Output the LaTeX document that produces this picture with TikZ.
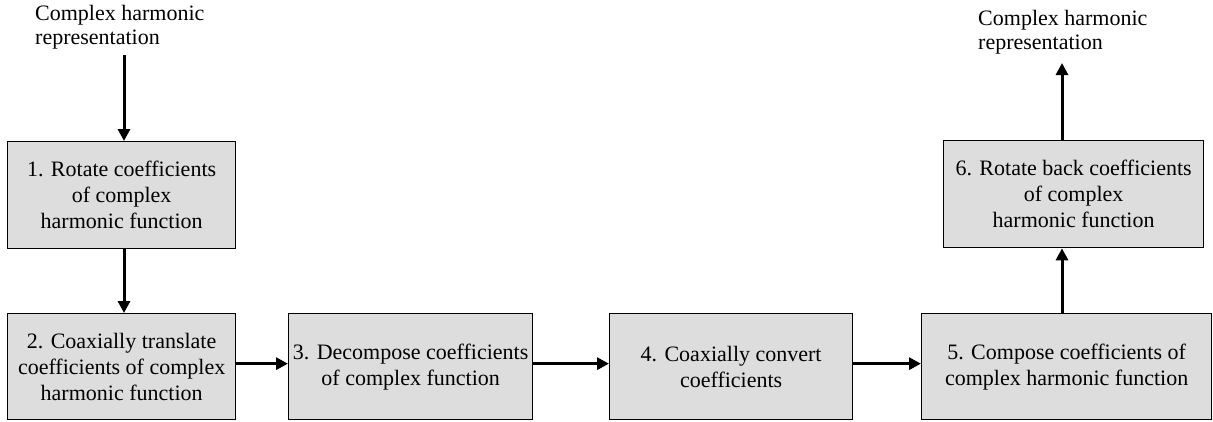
\documentclass[tikz,border=0pt]{standalone}
\usepackage{fontspec}
\setmainfont{Liberation Serif}
\usetikzlibrary{arrows.meta, positioning}

\begin{document}
\begin{tikzpicture}[x=1pt,y=-1pt,>={Triangle[length=12pt,width=12pt]}, font=\fontsize{22}{26}\selectfont]
  \tikzset{
    stepbox/.style={draw, line width=1.3pt, fill={rgb,255:red,221;green,221;blue,221},
      align=center, inner sep=0pt, anchor=north west},
    flow/.style={->, line width=3pt},
    lbl/.style={align=left, inner sep=0pt, anchor=north west, font=\fontsize{22}{24}\selectfont}
  }
  \useasboundingbox (0,0) rectangle (1213,421);

  % Labels
  \node[lbl] (inlbl) at (35,5) {Complex harmonic\\representation};
  \node[lbl] (outlbl) at (978,10) {Complex harmonic\\representation};
  \coordinate (inc) at (124,55);
  \coordinate (outc) at (1062,63);

  % Boxes
  \node[stepbox, minimum width=228pt, minimum height=107pt] (rot) at (7,141)
    {1. Rotate coefficients\\of complex\\harmonic function};
  \node[stepbox, minimum width=228pt, minimum height=106pt] (trans) at (7,313)
    {2. Coaxially translate\\coefficients of complex\\harmonic function};
  \node[stepbox, minimum width=244pt, minimum height=106pt] (dec) at (288,313)
    {3. Decompose coefficients\\of complex function};
  \node[stepbox, minimum width=243pt, minimum height=106pt] (conv) at (609,313)
    {4. Coaxially convert\\coefficients};
  \node[stepbox, minimum width=290pt, minimum height=106pt] (comp) at (921,313)
    {5. Compose coefficients of\\complex harmonic function};
  \node[stepbox, minimum width=260pt, minimum height=107pt] (back) at (943,140)
    {6. Rotate back coefficients\\of complex\\harmonic function};

  % Flow arrows
  \draw[flow] (inc) -- (inc |- rot.north);
  \draw[flow] (inc |- rot.south) -- (inc |- trans.north);
  \draw[flow] ([yshift=3pt]trans.east) -- ([yshift=3pt]dec.west);
  \draw[flow] ([yshift=3pt]dec.east) -- ([yshift=3pt]conv.west);
  \draw[flow] ([yshift=3pt]conv.east) -- ([yshift=3pt]comp.west);
  \draw[flow] (comp.north -| outc) -- (back.south -| outc);
  \draw[flow] (back.north -| outc) -- (outc);
\end{tikzpicture}
\end{document}
